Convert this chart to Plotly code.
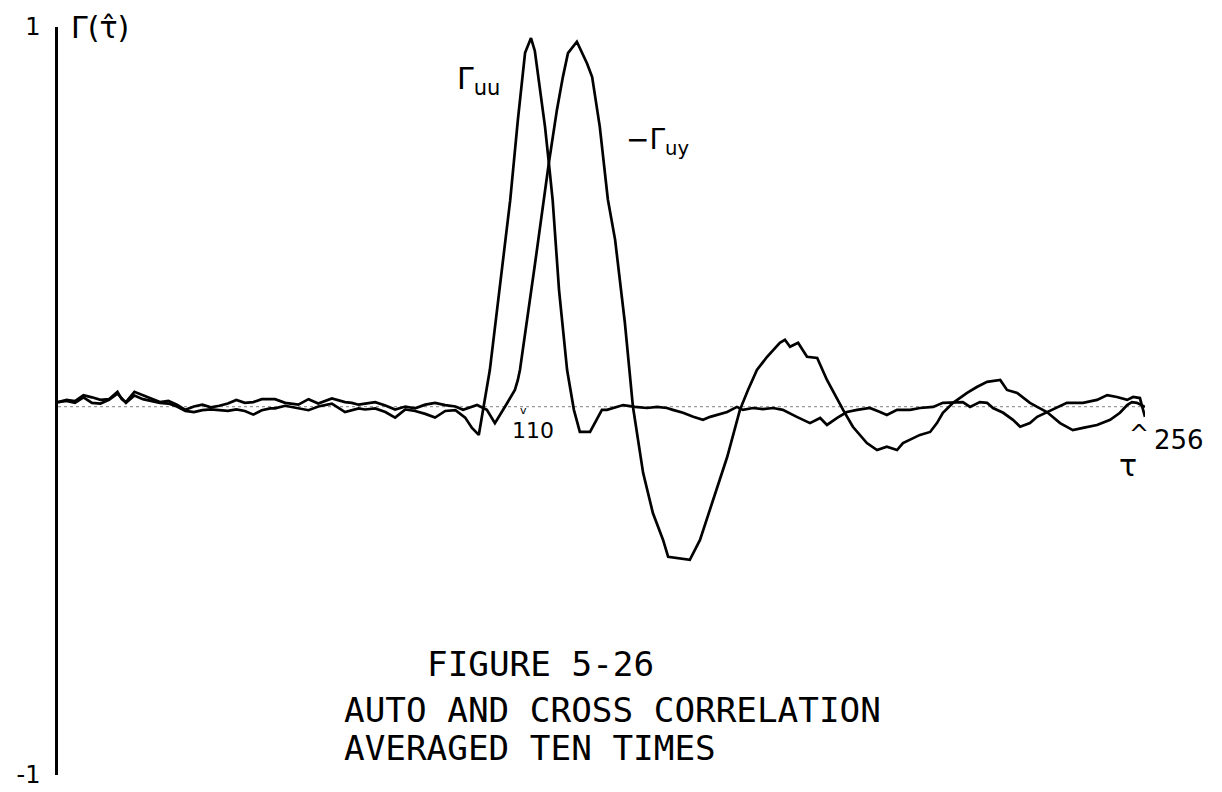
import plotly.graph_objects as go

# ---- data (tau = lag, value = normalized correlation) ----
tau_uu = [0, 2, 4, 6, 8, 10, 12, 14, 16, 18, 20, 22, 24, 26, 28, 30, 32, 34, 36, 38,
          40, 42, 44, 46, 48, 50, 51.1, 53.5, 56.6, 59, 61.3, 64.5, 67.6, 69.2, 70.8,
          72.3, 74.7, 77.1, 79.4, 81.8, 84.1, 86.5, 88.8, 91.2, 93.6, 95.9, 97.5, 99.1,
          101.7, 106.5, 108.3, 110.0, 111.4, 112.3, 113.5, 114.7, 115.6, 116.5, 118.0,
          119.9, 121.5, 122.9, 125.3, 126.9, 128.1, 129.3, 131.7, 133.1, 135.9, 138.7,
          141.1, 143.4, 144.8, 147.2, 149.6, 151.9, 153.6, 155.2, 157.6, 159.9, 161.3,
          163.7, 166.0, 168.4, 170.7, 174.0, 177.1, 179.5, 181.1, 183.5, 185.8, 188.2,
          191.2, 193.6, 195.2, 197.6, 200.7, 203.0, 206.1, 208.4, 210.8, 213.1, 214.8,
          217.1, 218.8, 220.2, 222.6, 224.9, 226.6, 228.9, 230.6, 232.9, 235.3, 237.6,
          241.4, 244.7, 247.1, 249.4, 251.8, 253.2, 254.8, 256]
gamma_uu = [0.012, 0.015, 0.010, 0.025, 0.010, 0.008, 0.018, 0.035, 0.010, 0.030,
            0.020, 0.015, 0.010, 0.008, 0.000, -0.012, -0.015, -0.010, -0.008, -0.010,
            -0.012, -0.008, -0.012, -0.022, -0.010, -0.005, -0.005, 0.002, -0.005, -0.010,
            0.000, 0.008, -0.015, -0.010, -0.005, -0.008, -0.005, -0.015, -0.030, -0.008,
            -0.012, -0.020, -0.030, -0.012, -0.010, -0.030, -0.058, -0.077,
            0.099, 0.560, 0.777, 0.960, 1.000, 0.965, 0.867, 0.759, 0.661, 0.560, 0.316,
            0.099, -0.009, -0.069, -0.069, -0.036, -0.009, -0.009, -0.001, 0.004, -0.001,
            -0.004, -0.001, -0.004, -0.009, -0.017, -0.028, -0.036, -0.028, -0.023,
            -0.015, -0.001, -0.009, -0.004, -0.007, -0.004, -0.009, -0.028, -0.045,
            -0.031, -0.050, -0.031, -0.015, -0.009, -0.004, -0.015, -0.023, -0.009,
            -0.009, -0.004, -0.001, 0.010, 0.012, 0.012, -0.001, 0.012, 0.010, -0.004,
            -0.017, -0.036, -0.055, -0.045, -0.028, -0.015, -0.001, 0.010, 0.010, 0.018,
            0.031, 0.026, 0.018, 0.026, 0.023, -0.028]

tau_uy = [0, 2, 4, 6, 8, 10, 12, 14, 15, 16, 18, 20, 22, 24, 26, 28, 30, 32, 34, 36,
          38, 40, 42, 44, 46, 48, 51.1, 53.5, 56.6, 59, 61.3, 64.5, 67.6, 69.2, 70.8,
          72.3, 74.7, 77.1, 79.4, 81.8, 84.1, 86.5, 88.8, 91.2, 93.6, 95.4, 98.7, 101.0,
          102.9, 105.3, 107.6, 108.3, 108.8, 112.3, 115.6, 117.5, 118.9, 120.1, 122.2,
          124.6, 125.8, 127.6, 129.5, 131.2, 133.5, 135.4, 137.8, 140.1, 142.5, 143.7,
          148.8, 151.2, 154.3, 157.6, 160.6, 162.5, 164.6, 167.0, 170.0, 171.2, 172.4,
          174.3, 176.4, 178.8, 181.1, 183.5, 184.9, 187.2, 190.5, 192.9, 195.2, 197.6,
          199.0, 203.0, 205.4, 207.0, 208.4, 210.8, 214.1, 216.4, 218.8, 221.9, 223.5,
          225.9, 228.9, 230.6, 232.9, 236.0, 239.0, 241.4, 244.7, 247.8, 250.1, 251.8,
          252.9, 254.1, 256]
gamma_uy = [0.012, 0.018, 0.015, 0.031, 0.025, 0.018, 0.020, 0.040, 0.020, 0.012,
            0.040, 0.030, 0.020, 0.012, 0.015, 0.005, -0.009, 0.000, 0.005, -0.002,
            0.002, 0.008, 0.018, 0.010, 0.012, 0.020, 0.020, 0.010, 0.005, 0.020, 0.008,
            0.022, 0.012, 0.010, 0.005, 0.008, 0.012, 0.003, -0.008, 0.000, -0.005,
            0.005, 0.010, 0.004, 0.000, -0.009, 0.004, -0.009, -0.045, 0.000, 0.045,
            0.072, 0.100, 0.384, 0.661, 0.805, 0.894, 0.959, 0.990, 0.931, 0.894, 0.759,
            0.562, 0.453, 0.228, 0.000, -0.180, -0.289, -0.362, -0.408, -0.416, -0.362,
            -0.253, -0.137, -0.009, 0.045, 0.099, 0.135, 0.173, 0.181, 0.162, 0.173,
            0.135, 0.132, 0.072, 0.018, -0.009, -0.055, -0.099, -0.118, -0.109, -0.118,
            -0.099, -0.077, -0.069, -0.045, -0.017, 0.010, 0.037, 0.053, 0.067, 0.072,
            0.045, 0.037, 0.010, -0.001, -0.015, -0.045, -0.064, -0.058, -0.050, -0.036,
            -0.017, 0.004, 0.012, 0.010, -0.001]

y_ticks = [-1.0, 1.03]
y_tick_text = ["-1", "1"]

fig = go.Figure()
line_style = dict(color="black", width=2.7)
fig.add_trace(go.Scatter(x=tau_uu, y=gamma_uu, mode="lines", line=line_style,
                         name="Γuu", showlegend=False))
fig.add_trace(go.Scatter(x=tau_uy, y=gamma_uy, mode="lines", line=line_style,
                         name="Γuy", showlegend=False))

# faint dotted zero line
fig.add_shape(type="line", xref="x", yref="y", x0=0, x1=256, y0=0, y1=0,
              line=dict(color="#9a9a9a", width=1.2, dash="dot"), layer="below")

hand = dict(family="DejaVu Sans, sans-serif", color="black")
cap = dict(family="DejaVu Sans Mono, monospace", color="black", size=34.3)

annots = [
    dict(x=10, y=1.03, text="Γ(τ̂)", font=dict(size=30, **hand), xanchor="center"),
    dict(x=99, y=0.885, text="Γ<sub>uu</sub>", font=dict(size=30, **hand), xanchor="center"),
    dict(x=141.3, y=0.72, text="−Γ<sub>uy</sub>", font=dict(size=28, **hand), xanchor="center"),
    dict(x=111.9, y=-0.064, text="110", font=dict(size=22, **hand), xanchor="center"),
    dict(x=109.7, y=-0.012, text="v", font=dict(size=11, **hand), xanchor="center"),
    dict(x=254.6, y=-0.075, text="^", font=dict(size=24, **hand), xanchor="center"),
    dict(x=252.0, y=-0.16, text="τ", font=dict(size=30, **hand), xanchor="center"),
    dict(x=86.4, y=-0.70, text="FIGURE 5-26", font=cap, xanchor="left"),
    dict(x=66.9, y=-0.823, text="AUTO AND CROSS CORRELATION", font=cap, xanchor="left"),
    dict(x=66.9, y=-0.926, text="AVERAGED TEN TIMES", font=cap, xanchor="left"),
]
for a in annots:
    fig.add_annotation(xref="x", yref="y", showarrow=False, yanchor="middle", **a)

# "256" end label sits just right of the plotted range
fig.add_annotation(xref="paper", yref="y", x=1.031, y=-0.09, text="256",
                   showarrow=False, xanchor="center", yanchor="middle",
                   font=dict(size=26, **hand))

fig.update_xaxes(range=[0, 256], visible=False, showgrid=False, zeroline=False,
                 automargin=False)
fig.update_yaxes(range=[-1.0, 1.03], showgrid=False, zeroline=False, automargin=False,
                 showline=True, linecolor="black", linewidth=2.5,
                 ticks="inside", ticklen=7, tickwidth=2.5, tickcolor="black",
                 tickvals=y_ticks, ticktext=y_tick_text,
                 tickfont=dict(size=24, family="DejaVu Sans, sans-serif", color="black"),
                 ticklabelstandoff=10)
# the page body adds an 8px offset; margins compensate so the axes land where the reference has them
fig.update_layout(width=1222, height=792, plot_bgcolor="white", paper_bgcolor="white",
                  margin=dict(l=50, r=85, t=19, b=25), showlegend=False)

fig.write_html("out.html")
